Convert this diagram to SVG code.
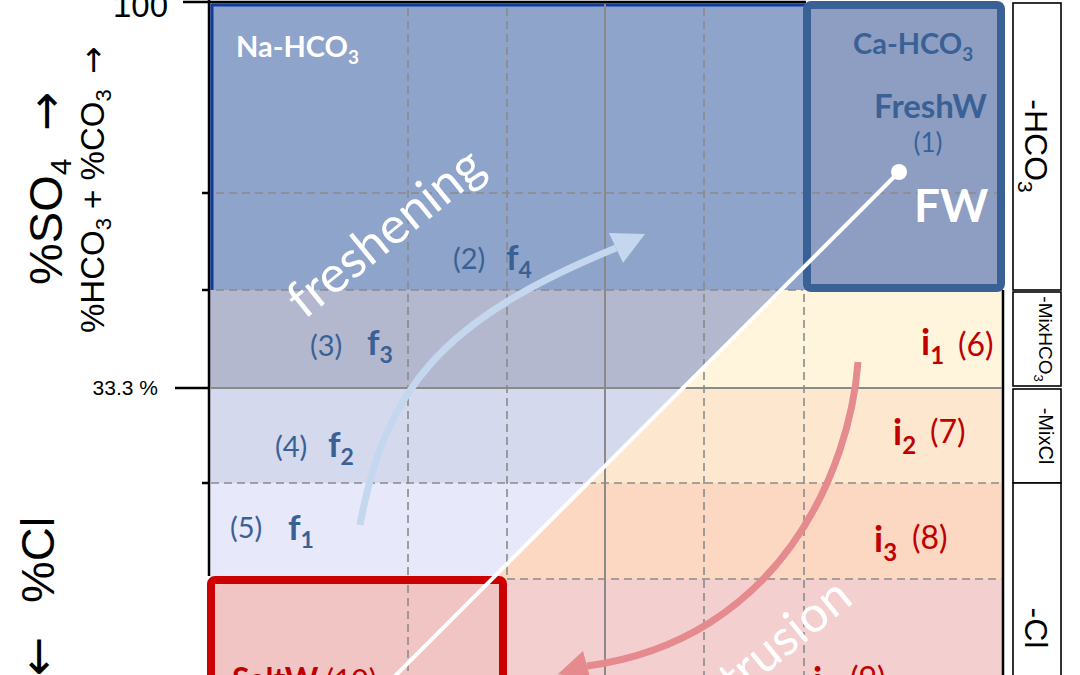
<svg xmlns="http://www.w3.org/2000/svg" width="1080" height="675" viewBox="0 0 1080 675">
<style>
.ax{font-family:"Liberation Sans",Arial,sans-serif;fill:#000}
.arr{font-family:"DejaVu Sans",sans-serif}
.lb{font-family:Lato,"Open Sans",sans-serif}
.b{font-weight:bold}
.blue{fill:#3a6196}
.red{fill:#c00000}
.wh{fill:#fff}
.dash{stroke:#8a8a8a;stroke-width:1.6;stroke-dasharray:8 5;fill:none}
.sol{stroke:#8a8a8a;stroke-width:2;fill:none}
.leg{fill:#fff;stroke:#000;stroke-width:1.6}
.blk{stroke:#000;stroke-width:2.5;fill:none}
</style>
<rect width="1080" height="675" fill="#fff"/>
<g id="background">
<rect x="210" y="3" width="793" height="287" fill="#8fa4cb"/>
<rect x="210" y="290" width="793" height="98" fill="#b3b8ce"/>
<rect x="210" y="388" width="793" height="95" fill="#d4d9ee"/>
<rect x="210" y="483" width="793" height="96" fill="#e8e8fb"/>
<rect x="210" y="579" width="793" height="96" fill="#f4cfcf"/>
<polygon points="781,290 1003,290 1003,388 683,388" fill="#fff4dc"/>
<polygon points="683,388 1003,388 1003,483 588,483" fill="#fde8cf"/>
<polygon points="588,483 1003,483 1003,579 492,579" fill="#fcd8c3"/>
</g>
<g id="axes">
<line class="blk" x1="209" y1="0" x2="209" y2="576"/>
<line class="blk" x1="183" y1="2" x2="806" y2="2"/>
<line x1="212" y1="5" x2="806" y2="5" stroke="#123c99" stroke-width="3"/>
<line x1="212" y1="4" x2="212" y2="290" stroke="#123c99" stroke-width="3"/>
<line class="blk" x1="175" y1="388" x2="210" y2="388"/>
<line class="blk" x1="202" y1="193" x2="210" y2="193"/>
<line class="blk" x1="202" y1="290" x2="210" y2="290"/>
<line class="blk" x1="202" y1="483" x2="210" y2="483"/>
<line class="blk" x1="1003" y1="290" x2="1003" y2="675"/>
<text class="ax" x="168" y="17" font-size="33" text-anchor="end">100</text>
<text class="ax" x="158" y="395" font-size="21" text-anchor="end">33.3 %</text>
<text class="ax" transform="translate(62,0) rotate(-90)" font-size="47"><tspan x="-285">%SO</tspan><tspan font-size="30" dy="9">4</tspan><tspan class="arr" x="-131" dy="-9">→</tspan></text>
<text class="ax" transform="translate(104,0) rotate(-90)" font-size="33"><tspan x="-333">%HCO</tspan><tspan font-size="22" dy="7">3</tspan><tspan dy="-7"> + %CO</tspan><tspan font-size="22" dy="7">3</tspan><tspan class="arr" x="-74" dy="-7">→</tspan></text>
<text class="ax" transform="translate(54,0) rotate(-90)" font-size="47"><tspan class="arr" x="-676">←</tspan><tspan x="-603">%Cl</tspan></text>
</g>
<g id="fw-box">
<rect x="807" y="5" width="194" height="283" rx="4" fill="#8e9ec2" stroke="#3a6196" stroke-width="8"/>
</g>
<g id="saltw-box">
<rect x="211" y="580" width="292" height="130" rx="4" fill="#f2c5c5" stroke="#cc0000" stroke-width="8"/>
</g>
<g id="grid">
<line class="dash" x1="216" y1="193" x2="803" y2="193"/>
<line class="dash" x1="812" y1="193" x2="997" y2="193"/>
<line class="dash" x1="216" y1="290" x2="803" y2="290"/>
<line class="sol" x1="211" y1="388" x2="1002" y2="388"/>
<line class="dash" x1="211" y1="483" x2="1002" y2="483"/>
<line class="dash" x1="507" y1="579" x2="1002" y2="579"/>
<line class="dash" x1="408" y1="8" x2="408" y2="575"/>
<line class="dash" x1="408" y1="585" x2="408" y2="675"/>
<line class="dash" x1="507" y1="8" x2="507" y2="576"/>
<line class="sol" x1="605" y1="4" x2="605" y2="675"/>
<line class="dash" x1="704" y1="8" x2="704" y2="675"/>
<line class="dash" x1="804" y1="294" x2="804" y2="675"/>
</g>
<g id="connectors">
<line x1="899" y1="172" x2="392" y2="679" stroke="#fff" stroke-width="4"/>
<circle cx="899" cy="172" r="8" fill="#fff"/>
<path d="M360,525 C385,390 440,320 616,248" fill="none" stroke="#c4d7ef" stroke-width="7"/>
<polygon points="645,234 609,233 623,263" fill="#c4d7ef"/>
<path d="M858,362 C850,470 780,640 587,666" fill="none" stroke="#e58a8e" stroke-width="7"/>
<polygon points="558,674 583,651 591,681" fill="#e58a8e"/>
</g>
<g id="region-labels">
<text class="lb b wh" x="236" y="57" font-size="29">Na-HCO<tspan font-size="19" dy="7">3</tspan></text>
<text class="lb b blue" x="853" y="54" font-size="29">Ca-HCO<tspan font-size="19" dy="7">3</tspan></text>
<text class="lb b blue" x="987" y="118" font-size="33" text-anchor="end">FreshW</text>
<text class="lb blue" x="928" y="152" font-size="26" text-anchor="middle">(1)</text>
<text class="lb b wh" x="914" y="222" font-size="46">FW</text>
<text class="lb wh" transform="translate(396,246) rotate(-39)" font-size="51" text-anchor="middle">freshening</text>
<text class="lb wh" transform="translate(855,602) rotate(-39)" font-size="50" text-anchor="end">intrusion</text>
</g>
<g id="f4"><text class="lb blue" x="453" y="269" font-size="29">(2)</text><text class="lb b blue" x="506" y="270" font-size="35">f<tspan font-size="23" dy="8">4</tspan></text></g>
<g id="f3"><text class="lb blue" x="310" y="356" font-size="29">(3)</text><text class="lb b blue" x="367" y="355" font-size="35">f<tspan font-size="23" dy="8">3</tspan></text></g>
<g id="f2"><text class="lb blue" x="275" y="457" font-size="29">(4)</text><text class="lb b blue" x="328" y="457" font-size="35">f<tspan font-size="23" dy="8">2</tspan></text></g>
<g id="f1"><text class="lb blue" x="230" y="538" font-size="29">(5)</text><text class="lb b blue" x="288" y="540" font-size="35">f<tspan font-size="23" dy="8">1</tspan></text></g>
<g id="i1"><text class="lb b red" x="921" y="355" font-size="36">i<tspan font-size="24" dy="9">1</tspan></text><text class="lb red" x="958" y="356" font-size="32">(6)</text></g>
<g id="i2"><text class="lb b red" x="893" y="445" font-size="36">i<tspan font-size="24" dy="9">2</tspan></text><text class="lb red" x="930" y="443" font-size="32">(7)</text></g>
<g id="i3"><text class="lb b red" x="874" y="552" font-size="36">i<tspan font-size="24" dy="9">3</tspan></text><text class="lb red" x="912" y="549" font-size="32">(8)</text></g>
<g id="i4"><text class="lb b red" x="813" y="693" font-size="36">i<tspan font-size="24" dy="9">4</tspan></text><text class="lb red" x="850" y="690" font-size="32">(9)</text></g>
<g id="saltw"><text class="lb b red" x="232" y="691" font-size="32">SaltW <tspan font-weight="normal" font-size="30">(10)</tspan></text></g>
<g id="legend-hco3"><rect class="leg" x="1013" y="3" width="48" height="287"/><text class="ax" transform="translate(1025,146) rotate(90)" font-size="32" text-anchor="middle">-HCO<tspan font-size="21" dy="7">3</tspan></text></g>
<g id="legend-mixhco3"><rect class="leg" x="1013" y="292" width="48" height="94"/><text class="ax" transform="translate(1039,339) rotate(90)" font-size="19" text-anchor="middle">-MixHCO<tspan font-size="13" dy="5">3</tspan></text></g>
<g id="legend-mixcl"><rect class="leg" x="1013" y="389" width="48" height="94"/><text class="ax" transform="translate(1039,436) rotate(90)" font-size="20" text-anchor="middle">-MixCl</text></g>
<g id="legend-cl"><rect class="leg" x="1013" y="483" width="48" height="200"/><text class="ax" transform="translate(1025,628) rotate(90)" font-size="32" text-anchor="middle">-Cl</text></g>
</svg>
